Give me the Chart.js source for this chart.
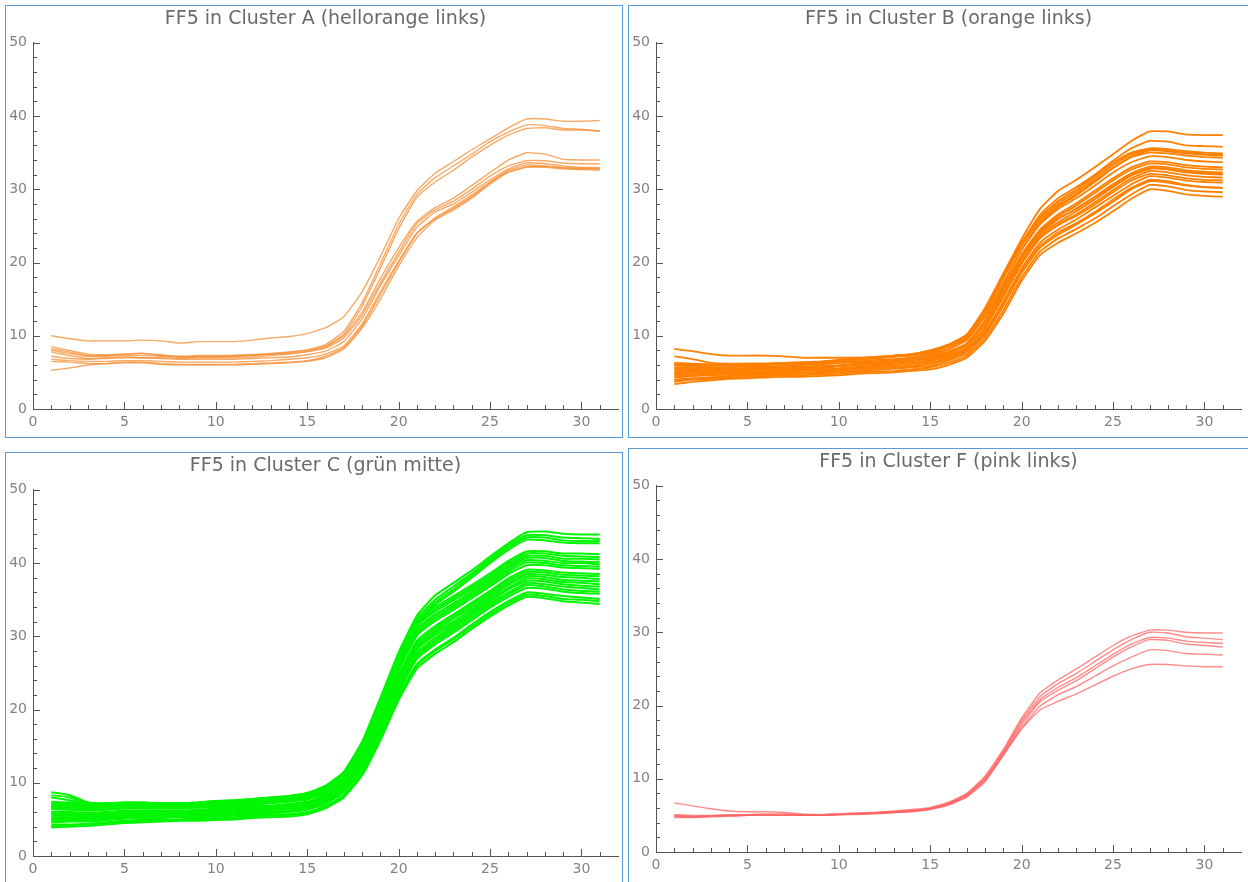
<!DOCTYPE html>
<html>
<head>
<meta charset="utf-8">
<script src="https://cdn.jsdelivr.net/npm/chart.js@4.4.1/dist/chart.umd.min.js"></script>
<style>
  html, body { margin: 0; padding: 0; background: #fff; }
  body { position: relative; width: 1248px; height: 882px; overflow: hidden; }
  .panel { position: absolute; border: 1px solid #5b9bd5; background: #fff; }
  .panel canvas { display: block; }
</style>
</head>
<body>
<div class="panel" style="left:5px; top:5px; width:616px; height:431px;"><canvas id="chartA" width="616" height="431"></canvas></div>
<div class="panel" style="left:628px; top:5px; width:630px; height:431px;"><canvas id="chartB" width="616" height="431"></canvas></div>
<div class="panel" style="left:5px; top:452px; width:616px; height:440px;"><canvas id="chartC" width="616" height="431"></canvas></div>
<div class="panel" style="left:628px; top:448px; width:630px; height:440px;"><canvas id="chartF" width="616" height="431"></canvas></div>

<script>
// time steps shared by every curve
const xValues = [1,2,3,4,5,6,7,8,9,10,11,12,13,14,15,16,17,18,19,20,21,22,23,24,25,26,27,28,29,30,31];

const xTickLabels = [0, 5, 10, 15, 20, 25, 30];
const yTickLabels = [0, 10, 20, 30, 40, 50];

// Cluster A (hellorange links)
const clusterA = [
  [10.0,9.6,9.3,9.3,9.3,9.4,9.3,9.0,9.2,9.2,9.2,9.4,9.7,9.9,10.3,11.1,12.6,16.0,20.8,26.0,29.8,32.2,33.8,35.4,36.9,38.4,39.6,39.6,39.3,39.3,39.4],
  [8.5,8.0,7.5,7.4,7.5,7.6,7.4,7.2,7.3,7.3,7.3,7.4,7.6,7.8,8.1,8.8,10.6,14.5,19.8,25.2,29.3,31.6,33.2,34.8,36.5,37.8,38.8,38.7,38.3,38.2,37.9],
  [8.2,7.8,7.3,7.3,7.5,7.6,7.3,7.1,7.2,7.2,7.3,7.4,7.5,7.7,8.0,8.6,10.2,14.0,19.2,24.6,28.9,31.0,32.6,34.4,36.0,37.4,38.3,38.4,38.1,38.1,38.0],
  [8.0,7.6,7.2,7.2,7.3,7.3,7.2,7.1,7.1,7.1,7.2,7.3,7.5,7.6,7.9,8.5,10.0,13.2,17.8,22.0,25.6,27.5,28.8,30.5,32.3,34.0,35.0,34.8,34.1,34.0,34.0],
  [7.8,7.3,6.9,7.0,7.1,7.0,7.0,6.9,7.0,7.0,7.0,7.1,7.3,7.5,7.8,8.3,9.7,12.8,17.2,21.4,25.3,27.2,28.4,30.0,31.8,33.2,33.9,33.9,33.6,33.5,33.5],
  [7.2,6.9,6.8,6.9,7.0,7.0,6.9,6.8,6.8,6.8,6.8,6.9,7.0,7.1,7.4,7.9,9.2,12.3,16.8,20.9,24.8,26.9,28.0,29.6,31.3,32.8,33.6,33.5,33.2,33.0,33.0],
  [6.8,6.6,6.5,6.5,6.6,6.6,6.5,6.4,6.4,6.4,6.4,6.5,6.6,6.8,7.0,7.5,8.6,11.6,16.0,20.2,24.0,26.1,27.6,29.2,31.0,32.6,33.3,33.2,32.9,32.8,32.8],
  [6.5,6.4,6.2,6.2,6.3,6.3,6.1,6.0,6.0,6.0,6.0,6.1,6.2,6.3,6.5,7.0,8.2,11.0,15.0,19.5,23.4,25.8,27.2,28.8,30.7,32.3,33.0,33.0,32.8,32.7,32.6],
  [5.3,5.6,6.0,6.2,6.4,6.4,6.2,6.1,6.1,6.1,6.1,6.2,6.3,6.4,6.6,7.2,8.4,11.3,15.6,20.0,24.0,26.0,27.4,29.0,30.9,32.4,33.1,33.1,33.0,32.9,32.8]
];

// Cluster B (orange links)
const clusterB = [
  [8.2,7.9,7.5,7.3,7.3,7.3,7.2,7.0,7.0,7.0,7.0,7.1,7.3,7.5,8.0,8.8,10.2,13.8,18.5,23.2,27.3,29.8,31.3,33.0,34.8,36.6,37.9,37.9,37.5,37.4,37.4],
  [7.2,6.8,6.3,6.2,6.2,6.2,6.2,6.2,6.2,6.3,6.4,6.5,6.7,7.0,7.4,8.2,9.6,13.0,18.0,22.6,26.5,28.8,30.3,32.0,33.9,35.6,36.6,36.5,36.0,35.9,35.8],
  [6.3,6.2,6.1,6.1,6.2,6.2,6.3,6.4,6.5,6.7,6.9,7.1,7.3,7.5,8.0,8.8,10.0,13.4,18.3,22.8,26.2,28.4,30.0,31.8,33.6,35.0,35.6,35.5,35.2,35.0,34.9],
  [6.1,6.1,6.0,6.0,6.1,6.1,6.2,6.3,6.4,6.6,6.8,7.0,7.2,7.4,7.8,8.6,9.8,13.2,18.0,22.5,26.0,28.1,29.7,31.5,33.3,34.8,35.4,35.3,35.0,34.8,34.7],
  [6.0,6.0,5.9,5.9,6.0,6.0,6.1,6.2,6.3,6.5,6.7,6.9,7.1,7.3,7.7,8.5,9.7,13.0,17.8,22.3,25.7,27.8,29.4,31.2,32.9,34.4,35.0,34.9,34.6,34.4,34.3],
  [4.5,4.6,4.7,4.8,4.9,5.0,5.1,5.2,5.3,5.5,5.7,5.9,6.1,6.3,6.7,7.5,8.8,12.0,17.0,21.8,25.4,27.6,29.2,31.0,32.9,34.5,35.3,35.2,34.9,34.7,34.6],
  [5.7,5.7,5.7,5.7,5.8,5.8,5.9,6.0,6.1,6.3,6.5,6.7,6.8,7.0,7.5,8.2,9.4,12.6,17.2,21.7,25.2,27.3,28.8,30.5,32.3,33.7,34.5,34.4,34.0,33.8,33.7],
  [5.2,5.2,5.3,5.3,5.4,5.5,5.6,5.6,5.7,5.9,6.1,6.2,6.4,6.6,7.0,7.7,8.9,11.9,16.4,20.9,24.3,26.3,27.8,29.5,31.2,32.7,33.5,33.4,33.0,32.8,32.7],
  [5.4,5.4,5.4,5.5,5.6,5.6,5.7,5.8,5.9,6.0,6.2,6.4,6.6,6.8,7.2,7.9,9.0,12.1,16.6,21.1,24.5,26.6,28.1,29.8,31.5,33.0,33.8,33.7,33.3,33.1,33.0],
  [5.5,5.5,5.4,5.4,5.5,5.5,5.6,5.6,5.7,5.9,6.0,6.2,6.4,6.6,7.0,7.7,8.8,11.7,16.2,20.7,24.1,26.0,27.3,28.9,30.5,32.1,32.9,32.8,32.4,32.2,32.1],
  [5.0,5.1,5.1,5.2,5.3,5.4,5.5,5.5,5.6,5.8,6.0,6.1,6.3,6.5,6.9,7.6,8.7,11.6,16.0,20.5,23.9,25.9,27.4,29.0,30.7,32.2,33.1,33.0,32.6,32.4,32.3],
  [3.9,4.1,4.3,4.5,4.6,4.7,4.8,4.9,5.0,5.2,5.3,5.5,5.7,5.9,6.3,7.0,8.2,11.0,15.6,20.2,23.6,25.5,27.0,28.6,30.3,31.9,32.8,32.7,32.3,32.1,32.0],
  [4.7,4.8,4.9,5.0,5.1,5.1,5.2,5.3,5.4,5.5,5.7,5.9,6.0,6.2,6.5,7.2,8.3,11.1,15.3,19.8,23.3,25.2,26.6,28.2,29.9,31.5,32.5,32.3,31.9,31.7,31.6],
  [4.8,4.9,5.0,5.0,5.1,5.2,5.3,5.3,5.4,5.5,5.7,5.8,6.0,6.2,6.6,7.3,8.4,11.2,15.5,20.0,23.4,25.1,26.4,27.9,29.6,31.2,32.1,31.9,31.5,31.3,31.2],
  [6.0,5.8,5.6,5.4,5.4,5.4,5.3,5.3,5.3,5.4,5.5,5.6,5.7,5.9,6.2,6.8,7.9,10.4,14.5,18.9,22.3,24.1,25.4,26.9,28.6,30.2,31.3,31.1,30.6,30.3,30.2],
  [4.3,4.5,4.6,4.7,4.8,4.9,5.0,5.0,5.1,5.3,5.5,5.6,5.7,5.9,6.2,6.9,8.0,10.6,14.7,19.2,22.7,24.5,25.9,27.5,29.1,30.7,31.8,31.6,31.2,31.0,30.9],
  [4.0,4.2,4.3,4.5,4.6,4.7,4.8,4.8,4.9,5.0,5.2,5.3,5.5,5.7,5.9,6.6,7.6,10.1,14.1,18.6,22.0,23.8,25.2,26.7,28.3,30.0,31.1,30.9,30.5,30.3,30.2],
  [3.7,4.0,4.1,4.3,4.4,4.5,4.6,4.6,4.7,4.8,5.0,5.1,5.2,5.4,5.7,6.3,7.3,9.7,13.5,18.0,21.5,23.3,24.6,26.0,27.7,29.3,30.6,30.4,29.9,29.7,29.6],
  [3.4,3.7,3.9,4.1,4.2,4.3,4.4,4.4,4.5,4.6,4.8,4.9,5.0,5.2,5.4,6.0,7.0,9.3,13.0,17.5,21.0,22.7,24.0,25.4,27.0,28.7,30.0,29.8,29.3,29.1,29.0]
];

// Cluster C (grün mitte)
const clusterC = [
  [8.7,8.3,7.3,7.2,7.3,7.3,7.2,7.2,7.3,7.5,7.6,7.8,8.0,8.2,8.6,9.6,11.5,15.6,21.6,27.8,32.8,35.6,37.3,39.0,40.9,42.7,44.2,44.3,44.0,43.9,43.9],
  [8.3,8.0,7.2,7.0,7.1,7.1,7.0,7.0,7.1,7.3,7.4,7.6,7.8,8.0,8.4,9.4,11.2,15.2,21.2,27.3,32.4,35.0,36.8,38.6,40.6,42.4,43.8,43.8,43.5,43.4,43.3],
  [8.0,7.6,7.1,6.9,6.9,6.9,6.8,6.8,6.9,7.1,7.2,7.4,7.6,7.8,8.2,9.2,11.0,14.9,20.8,26.9,32.0,34.6,36.4,38.3,40.3,42.1,43.5,43.5,43.1,43.0,43.0],
  [6.8,6.7,6.6,6.7,6.8,6.8,6.7,6.7,6.8,7.0,7.1,7.3,7.5,7.7,8.1,9.0,10.8,14.6,20.4,26.5,31.6,34.3,36.1,38.0,40.0,41.8,43.2,43.1,42.8,42.7,42.7],
  [7.4,7.3,7.1,7.2,7.3,7.3,7.2,7.2,7.3,7.5,7.6,7.8,8.0,8.2,8.6,9.5,11.3,15.0,20.8,27.0,32.0,34.0,35.5,37.0,38.6,40.3,41.6,41.6,41.3,41.3,41.2],
  [7.2,7.1,7.0,7.0,7.1,7.1,7.1,7.1,7.2,7.3,7.4,7.6,7.8,8.0,8.4,9.3,11.1,14.8,20.5,26.7,31.7,33.7,35.2,36.7,38.3,40.0,41.3,41.3,41.0,40.9,40.8],
  [7.1,7.0,6.8,6.9,7.0,7.0,7.0,7.0,7.1,7.2,7.3,7.5,7.7,7.9,8.3,9.2,11.0,14.6,20.3,26.4,31.4,33.4,34.9,36.4,38.0,39.7,41.0,41.0,40.6,40.6,40.5],
  [6.9,6.8,6.6,6.8,6.9,6.9,6.9,6.9,7.0,7.1,7.2,7.4,7.6,7.8,8.1,9.1,10.8,14.4,20.1,26.1,31.0,33.0,34.5,36.1,37.7,39.4,40.7,40.7,40.3,40.2,40.1],
  [6.7,6.6,6.5,6.6,6.7,6.8,6.7,6.7,6.8,7.0,7.1,7.3,7.5,7.6,8.0,8.9,10.6,14.2,19.8,25.9,30.7,32.7,34.2,35.8,37.4,39.1,40.4,40.3,40.0,40.0,39.8],
  [6.5,6.4,6.3,6.4,6.6,6.6,6.6,6.6,6.7,6.8,6.9,7.1,7.3,7.5,7.8,8.7,10.4,14.0,19.5,25.6,30.4,32.4,33.9,35.5,37.1,38.8,40.1,40.0,39.7,39.6,39.5],
  [6.4,6.3,6.2,6.3,6.5,6.5,6.5,6.5,6.6,6.7,6.8,7.0,7.2,7.4,7.7,8.6,10.3,13.8,19.3,25.3,30.1,32.1,33.6,35.2,36.8,38.5,39.7,39.7,39.4,39.3,39.2],
  [6.0,6.0,5.9,6.0,6.2,6.2,6.2,6.2,6.3,6.5,6.6,6.8,6.9,7.1,7.4,8.3,10.0,13.4,18.8,24.7,29.4,31.4,33.0,34.6,36.2,37.9,39.1,39.0,38.7,38.6,38.5],
  [5.9,5.8,5.7,5.8,6.0,6.1,6.1,6.1,6.2,6.3,6.4,6.6,6.8,7.0,7.3,8.2,9.8,13.2,18.6,24.5,29.1,31.1,32.7,34.3,36.0,37.6,38.8,38.7,38.4,38.3,38.2],
  [5.7,5.7,5.6,5.8,5.9,6.0,6.0,6.0,6.1,6.2,6.3,6.5,6.7,6.8,7.2,8.0,9.7,13.0,18.3,24.2,28.8,30.8,32.4,34.0,35.7,37.3,38.5,38.4,38.1,38.0,37.8],
  [5.5,5.5,5.4,5.6,5.8,5.8,5.9,5.9,6.0,6.1,6.2,6.3,6.5,6.7,7.0,7.8,9.5,12.8,18.0,23.9,28.5,30.5,32.0,33.7,35.4,37.0,38.2,38.1,37.7,37.6,37.5],
  [5.3,5.3,5.3,5.5,5.6,5.7,5.7,5.8,5.8,5.9,6.0,6.2,6.4,6.5,6.9,7.7,9.3,12.6,17.8,23.6,28.2,30.2,31.7,33.4,35.1,36.6,37.9,37.8,37.4,37.3,37.1],
  [5.1,5.2,5.2,5.3,5.5,5.5,5.6,5.6,5.7,5.8,5.9,6.1,6.3,6.4,6.7,7.5,9.1,12.4,17.5,23.3,27.8,29.8,31.4,33.1,34.8,36.4,37.6,37.5,37.1,36.9,36.8],
  [5.0,5.0,5.0,5.2,5.3,5.4,5.5,5.5,5.6,5.7,5.8,6.0,6.1,6.2,6.6,7.4,9.0,12.2,17.3,23.0,27.5,29.5,31.1,32.8,34.5,36.0,37.3,37.1,36.8,36.6,36.4],
  [4.8,4.8,4.9,5.0,5.2,5.3,5.3,5.4,5.5,5.6,5.7,5.8,6.0,6.1,6.4,7.3,8.8,12.0,17.0,22.7,27.2,29.2,30.8,32.5,34.2,35.7,37.0,36.8,36.4,36.2,36.1],
  [4.6,4.7,4.7,4.9,5.1,5.1,5.2,5.3,5.3,5.4,5.5,5.7,5.8,6.0,6.3,7.1,8.7,11.8,16.8,22.4,26.9,28.9,30.5,32.2,33.9,35.4,36.6,36.5,36.1,35.9,35.8],
  [4.3,4.3,4.4,4.6,4.8,4.9,5.0,5.0,5.1,5.2,5.3,5.5,5.6,5.7,6.0,6.8,8.3,11.4,16.3,21.9,26.2,28.2,29.8,31.6,33.3,34.8,36.0,35.8,35.5,35.3,35.1],
  [4.1,4.2,4.3,4.5,4.7,4.8,4.9,4.9,5.0,5.1,5.2,5.4,5.5,5.6,5.9,6.7,8.2,11.2,16.0,21.6,26.0,28.0,29.6,31.3,33.0,34.5,35.7,35.5,35.1,35.0,34.8],
  [3.9,4.0,4.1,4.3,4.5,4.6,4.7,4.8,4.8,4.9,5.0,5.2,5.3,5.4,5.7,6.5,8.0,11.0,15.8,21.3,25.6,27.6,29.2,31.0,32.7,34.2,35.4,35.2,34.8,34.6,34.4]
];

// Cluster F (pink links)
const clusterF = [
  [4.9,4.8,4.9,5.0,5.1,5.1,5.1,5.1,5.1,5.2,5.3,5.4,5.6,5.8,6.1,6.8,8.0,10.4,14.0,18.3,21.7,23.5,25.0,26.6,28.2,29.5,30.3,30.3,30.0,29.9,29.9],
  [5.1,5.0,5.0,5.1,5.1,5.2,5.2,5.1,5.1,5.2,5.3,5.4,5.5,5.7,6.0,6.7,7.9,10.2,13.8,18.0,21.2,23.0,24.4,26.0,27.6,29.0,30.0,29.9,29.4,29.2,29.0],
  [4.8,4.8,4.9,4.9,5.0,5.0,5.0,5.0,5.0,5.1,5.2,5.3,5.5,5.6,5.9,6.6,7.8,10.0,13.6,17.7,20.8,22.5,23.8,25.4,27.0,28.4,29.3,29.2,28.8,28.6,28.5],
  [4.7,4.7,4.8,4.9,5.0,5.0,5.0,5.0,5.0,5.1,5.1,5.2,5.4,5.6,5.9,6.5,7.7,9.9,13.4,17.4,20.5,22.1,23.4,25.0,26.6,28.0,29.0,28.9,28.4,28.2,28.0],
  [5.0,4.9,4.9,5.0,5.0,5.0,5.0,5.0,5.0,5.1,5.2,5.3,5.4,5.6,5.9,6.5,7.6,9.8,13.3,17.0,19.9,21.5,22.6,24.0,25.4,26.6,27.6,27.5,27.1,27.0,26.9],
  [6.7,6.3,5.9,5.6,5.5,5.5,5.4,5.2,5.1,5.1,5.2,5.3,5.4,5.5,5.8,6.4,7.5,9.6,13.2,16.8,19.4,20.6,21.6,22.8,24.0,25.0,25.6,25.6,25.4,25.3,25.3]
];

const AXIS_COLOR = '#555';
const LABEL_COLOR = '#828282';
const TITLE_COLOR = '#6a6a6a';
const FONT = 'DejaVu Sans';

// Mathematica-style inward tick marks: major every 5 (x) / 10 (y), minor in between
const inwardTicks = {
  id: 'inwardTicks',
  afterDatasetsDraw(chart) {
    const { ctx, chartArea, scales } = chart;
    const x = scales.x, y = scales.y;
    ctx.save();
    ctx.strokeStyle = AXIS_COLOR;
    ctx.lineWidth = 1;
    ctx.beginPath();
    for (let v = 1; v <= 31; v++) {
      const len = v % 5 === 0 ? 7 : 4;
      const px = Math.round(x.getPixelForValue(v)) + 0.5;
      ctx.moveTo(px, chartArea.bottom);
      ctx.lineTo(px, chartArea.bottom - len);
    }
    for (let v = 2; v <= 50; v += 2) {
      const len = v % 10 === 0 ? 7 : 4;
      const py = Math.round(y.getPixelForValue(v)) + 0.5;
      ctx.moveTo(chartArea.left, py);
      ctx.lineTo(chartArea.left + len, py);
    }
    ctx.stroke();
    ctx.restore();
  }
};

function makePanel(id, title, curves, color, lineWidth) {
  const datasets = curves.map(c => ({
    data: c.map((v, i) => ({ x: xValues[i], y: v })),
    borderColor: color,
    borderWidth: lineWidth,
    pointRadius: 0,
    fill: false,
    tension: 0.15
  }));
  const tickFont = { family: FONT, size: 14 };
  return new Chart(document.getElementById(id), {
    type: 'line',
    data: { datasets },
    options: {
      responsive: false,
      animation: false,
      events: [],
      layout: { padding: { left: 0, right: 4, top: 0, bottom: 0 } },
      plugins: {
        legend: { display: false },
        tooltip: { enabled: false },
        title: {
          display: true,
          text: title,
          fullSize: false,
          color: TITLE_COLOR,
          font: { family: FONT, size: 19, weight: 'normal', lineHeight: 1.15 },
          padding: { top: 2, bottom: 13 }
        }
      },
      scales: {
        x: {
          type: 'linear',
          min: 0, max: 32,
          grid: { display: false, drawTicks: false },
          border: { display: true, color: AXIS_COLOR, width: 1 },
          afterBuildTicks: s => { s.ticks = xTickLabels.map(v => ({ value: v })); },
          ticks: { color: LABEL_COLOR, font: tickFont, padding: 5, maxRotation: 0, autoSkip: false },
          afterFit: s => { s.height = 28; }
        },
        y: {
          type: 'linear',
          min: 0, max: 50,
          grid: { display: false, drawTicks: false },
          border: { display: true, color: AXIS_COLOR, width: 1 },
          afterBuildTicks: s => { s.ticks = yTickLabels.map(v => ({ value: v })); },
          ticks: { color: LABEL_COLOR, font: tickFont, padding: 6, autoSkip: false },
          afterFit: s => { s.width = 27; }
        }
      }
    },
    plugins: [inwardTicks]
  });
}

makePanel('chartA', 'FF5 in Cluster A (hellorange links)', clusterA, 'rgba(244,140,50,0.75)', 1.4);
makePanel('chartB', 'FF5 in Cluster B (orange links)', clusterB, '#ff8000', 1.8);
makePanel('chartC', 'FF5 in Cluster C (grün mitte)', clusterC, '#00f500', 2);
makePanel('chartF', 'FF5 in Cluster F (pink links)', clusterF, 'rgba(255,100,100,0.75)', 1.4);
</script>
</body>
</html>
